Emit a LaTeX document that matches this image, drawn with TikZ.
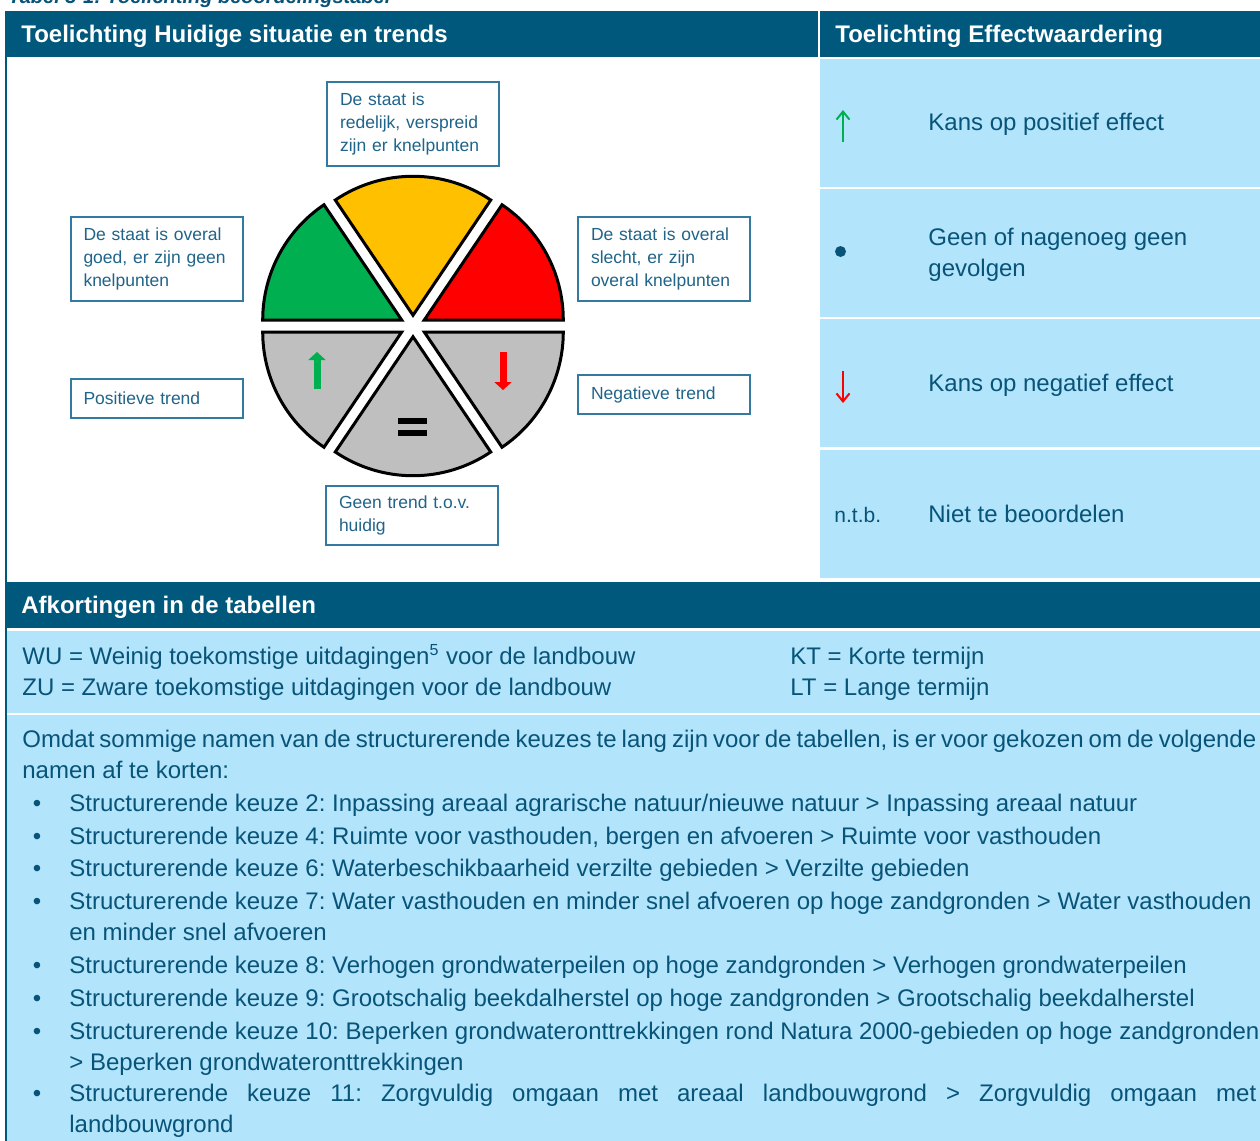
\documentclass[tikz,border=0pt]{standalone}
\usepackage{fontspec}
\setmainfont{Liberation Sans}
\usetikzlibrary{arrows.meta}

\definecolor{barblue}{RGB}{0,88,124}
\definecolor{cellblue}{RGB}{178,228,252}
\definecolor{inkblue}{RGB}{8,84,120}
\definecolor{boxline}{RGB}{52,122,160}
\definecolor{boxink}{RGB}{32,100,138}
\definecolor{goodgreen}{RGB}{0,176,80}
\definecolor{fairyellow}{RGB}{255,192,0}
\definecolor{badred}{RGB}{255,0,0}
\definecolor{trendgrey}{RGB}{191,191,191}

\frenchspacing

\begin{document}
\begin{tikzpicture}[x=0.5pt, y=-0.5pt,
  headtext/.style={anchor=base west, inner sep=0pt, text=white, font=\fontsize{12}{14}\selectfont\bfseries},
  bodytext/.style={anchor=base west, inner sep=0pt, text=inkblue, font=\fontsize{12}{15.5}\selectfont, align=left},
  statebox/.style={draw=boxline, line width=1pt, text=boxink, font=\fontsize{8.75}{11.5}\selectfont, align=left, text width=73pt, inner xsep=6.5pt, inner ysep=0pt},
  wedge/.style={draw=black, line width=1.5pt}]

% Page
\fill [white] ( 0, 0 ) rectangle ( 1260, 1141 );
\useasboundingbox ( 0, 0 ) rectangle ( 1260, 1141 );

% Caption (cut off at the top)
\node (caption) [anchor=base west, inner sep=0pt, text=inkblue, font=\fontsize{10}{12}\selectfont\bfseries\itshape] at ( 8, 3.5 ) {Tabel 3-1: Toelichting beoordelingstabel};

% Bars and cells
\fill [barblue] ( 5, 11 ) rectangle ( 1260, 57 );
\draw [white, line width=1pt] ( 819, 11 ) -- ( 819, 57 );
\foreach \top/\bot in {59/187, 189/317, 319/447, 450/578}
  \fill [cellblue] ( 820, \top ) rectangle ( 1260, \bot );
\fill [barblue] ( 5, 582 ) rectangle ( 1260, 628 );
\fill [cellblue] ( 7, 631 ) rectangle ( 1260, 713 );
\fill [cellblue] ( 7, 715 ) rectangle ( 1260, 1141 );
\draw [barblue, line width=1pt] ( 6, 57 ) -- ( 6, 1141 );

% Headers
\node (hdrstate) [headtext] at ( 21, 42 ) {Toelichting Huidige situatie en trends};
\node (hdreffect) [headtext] at ( 835, 42 ) {Toelichting Effectwaardering};
\node (hdrabbr) [headtext] at ( 21, 613 ) {Afkortingen in de tabellen};

% Pie wedges
\foreach \a/\b/\col in {-56/0/badred, -124/-56/fairyellow, -180/-124/goodgreen, 124/180/trendgrey, 56/124/trendgrey, 0/56/trendgrey}
{
  \pgfmathsetmacro{\bisect}{(\a+\b)/2}
  \pgfmathsetmacro{\shiftlen}{6/sin((\b-\a)/2)}
  \filldraw [wedge, fill=\col, shift={( \bisect : \shiftlen )}] ( 413, 326 ) -- ++( \a : 139 ) arc [start angle=\a, end angle=\b, radius=139] -- cycle;
}

% Trend marks
\draw [goodgreen, line width=3.5pt, -{Triangle[length=4pt, width=8.5pt]}] ( 317, 389 ) -- ( 317, 352 );
\draw [badred, line width=3.5pt, -{Triangle[length=4pt, width=8.5pt]}] ( 503, 352 ) -- ( 503, 390 );
\fill ( 398, 418 ) rectangle ( 427, 423.5 );
\fill ( 398, 430 ) rectangle ( 427, 435.5 );

% State boxes
\node (boxfair) [statebox, minimum height=42pt] at ( 413, 124 ) {De staat is\\redelijk, verspreid\\zijn er knelpunten};
\node (boxgood) [statebox, minimum height=42pt] at ( 156.5, 259 ) {De staat is overal\\goed, er zijn geen\\knelpunten};
\node (boxbad) [statebox, minimum height=42pt] at ( 664, 259 ) {De staat is overal\\slecht, er zijn\\overal knelpunten};
\node (boxup) [statebox, minimum height=19.5pt] at ( 156.5, 398.5 ) {Positieve trend};
\node (boxdown) [statebox, minimum height=19.5pt] at ( 664, 394.5 ) {Negatieve trend};
\node (boxflat) [statebox, minimum height=29.5pt] at ( 412, 515.5 ) {Geen trend t.o.v.\\huidig};

% Effect symbols
\draw [goodgreen, line width=1pt, -{Straight Barb[length=4pt, width=6.5pt]}] ( 843, 142 ) -- ( 843, 110 );
\fill [inkblue] ( 840.5, 251.5 ) circle [radius=5.5];
\draw [badred, line width=1pt, -{Straight Barb[length=4pt, width=6.5pt]}] ( 843, 371 ) -- ( 843, 403 );
\node (ntbcode) [bodytext, font=\fontsize{10.5}{12}\selectfont] at ( 834, 522 ) {n.t.b.};

% Effect labels (multi-line nodes sit on their last line)
\node (effpos) [bodytext] at ( 928, 130 ) {Kans op positief effect};
\node (effnone) [bodytext] at ( 928, 276 ) {Geen of nagenoeg geen\\gevolgen};
\node (effneg) [bodytext] at ( 928, 391 ) {Kans op negatief effect};
\node (effntb) [bodytext] at ( 928, 522 ) {Niet te beoordelen};

% Abbreviations
\node (abbrwu) [bodytext] at ( 22, 664 ) {WU = Weinig toekomstige uitdagingen\textsuperscript{5} voor de landbouw};
\node (abbrzu) [bodytext] at ( 22, 695 ) {ZU = Zware toekomstige uitdagingen voor de landbouw};
\node (abbrkt) [bodytext] at ( 790, 664 ) {KT = Korte termijn};
\node (abbrlt) [bodytext] at ( 790, 695 ) {LT = Lange termijn};

% Short names
\node (intro) [bodytext] at ( 22, 778 ) {\makebox[617pt][s]{Omdat sommige namen van de structurerende keuzes te lang zijn voor de tabellen, is er voor gekozen om de volgende}\\namen af te korten:};
\foreach \y/\ylast/\txt in {811/811/{Structurerende keuze 2: Inpassing areaal agrarische natuur/nieuwe natuur > Inpassing areaal natuur},
  844/844/{Structurerende keuze 4: Ruimte voor vasthouden, bergen en afvoeren > Ruimte voor vasthouden},
  876/876/{Structurerende keuze 6: Waterbeschikbaarheid verzilte gebieden > Verzilte gebieden},
  909/940/{Structurerende keuze 7: Water vasthouden en minder snel afvoeren op hoge zandgronden > Water vasthouden\\en minder snel afvoeren},
  973/973/{Structurerende keuze 8: Verhogen grondwaterpeilen op hoge zandgronden > Verhogen grondwaterpeilen},
  1006/1006/{Structurerende keuze 9: Grootschalig beekdalherstel op hoge zandgronden > Grootschalig beekdalherstel},
  1039/1070/{Structurerende keuze 10: Beperken grondwateronttrekkingen rond Natura 2000-gebieden op hoge zandgronden\\> Beperken grondwateronttrekkingen},
  1101/1132/{\makebox[593.5pt][s]{Structurerende keuze 11: Zorgvuldig omgaan met areaal landbouwgrond > Zorgvuldig omgaan met}\\landbouwgrond}}
{
  \node (bullet\y) [bodytext, anchor=base] at ( 37, \y ) {\textbullet};
  \node (item\y) [bodytext] at ( 69, \ylast ) {\txt};
}

\end{tikzpicture}
\end{document}
